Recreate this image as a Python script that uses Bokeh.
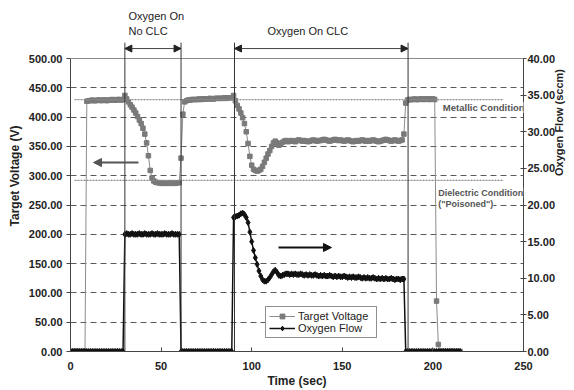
import math
from bokeh.plotting import figure
from bokeh.models import (Range1d, LinearAxis, NumeralTickFormatter, FixedTicker,
                          Label, Arrow, NormalHead, Span)
from bokeh.embed import file_html
from bokeh.resources import INLINE

# ---------------- data ----------------
time_s = list(range(0, 216))  # one sample per second

target_voltage = (
    [0, 0, 0, 0, 0, 0, 0, 0, 0]
    + [427, 428, 428, 429, 428, 428, 429, 429, 428, 429,
       429, 428, 429, 429, 430, 429, 429, 430, 430, 429, 430]
    + [437]
    + [431, 426, 421, 417, 412, 407, 401, 395, 389, 381,
       371, 356, 334, 309, 296, 291, 289]
    + [288, 288, 287, 287, 287, 287, 287, 288, 287, 287, 287, 288, 288]
    + [330, 405]
    + [426, 428, 429, 429, 430, 430, 430, 430, 431, 430,
       431, 431, 431, 431, 432, 431, 431, 432, 432, 432,
       432, 432, 433, 432, 433, 433, 433]
    + [437]
    + [428, 420, 414, 407, 399, 389, 375, 355, 333, 318,
       311, 309, 308, 309, 311, 316, 323, 330, 337, 343,
       350, 356, 359, 356, 352, 354, 357, 359, 360]
    + [358, 359, 360, 359, 358, 360, 361, 360, 359, 360,
       359, 358, 359, 360, 361, 360, 359, 360, 360, 361,
       362, 361, 360, 359, 360, 361, 362, 361, 360, 361,
       360, 359, 360, 361, 360, 359, 358, 359, 360, 359,
       360, 361, 360, 359, 360, 359, 360, 361, 360, 359,
       358, 359, 360, 361, 362, 361, 360, 359, 360, 361,
       360, 359, 360, 361]
    + [371, 424]
    + [429, 430, 430, 430, 431, 430, 430, 431, 431, 430,
       431, 431, 430, 431, 431]
    + [430, 86, 12]
    + [0, 0, 0, 0, 0, 0, 0, 0, 0, 0, 0, 0]
)

oxygen_flow = (
    [0, 0, 0, 0, 0, 0, 0, 0, 0, 0,
     0, 0, 0, 0, 0, 0, 0, 0, 0, 0,
     0, 0, 0, 0, 0, 0, 0, 0, 0, 0]
    + [16.0, 16.1, 16.0, 16.0, 16.1, 16.0, 16.0, 16.0, 16.1, 16.0,
       16.0, 16.1, 16.0, 16.0, 16.0, 16.1, 16.0, 16.0, 16.1, 16.0,
       16.0, 16.0, 16.1, 16.0, 16.0, 16.0, 16.1, 16.0, 16.0, 16.0, 16.0]
    + [0, 0, 0, 0, 0, 0, 0, 0, 0, 0,
       0, 0, 0, 0, 0, 0, 0, 0, 0, 0,
       0, 0, 0, 0, 0, 0, 0, 0, 0]
    + [18.3, 18.4, 18.5, 18.6, 18.8, 18.9, 18.7, 18.3, 17.6, 16.3,
       15.0, 13.8, 12.8, 11.9, 11.0, 10.3, 9.8, 9.6, 9.6, 9.8,
       10.1, 10.5, 10.9, 11.1, 10.8, 10.4, 10.3, 10.4, 10.5, 10.6]
    + [10.6, 10.5, 10.6, 10.5, 10.6, 10.5, 10.5, 10.6, 10.5, 10.4,
       10.5, 10.4, 10.5, 10.4, 10.4, 10.5, 10.4, 10.3, 10.4, 10.3,
       10.4, 10.3, 10.3, 10.4, 10.3, 10.2, 10.3, 10.2, 10.3, 10.2,
       10.2, 10.3, 10.2, 10.1, 10.2, 10.1, 10.2, 10.1, 10.1, 10.2,
       10.1, 10.0, 10.1, 10.0, 10.1, 10.0, 10.0, 10.1, 10.0, 9.9,
       10.0, 9.9, 10.0, 9.9, 10.0, 9.9, 9.9, 10.0, 9.9, 9.8,
       9.9, 9.9, 9.8, 9.9, 9.9]
    + [0, 0, 0, 0, 0, 0, 0, 0, 0, 0,
       0, 0, 0, 0, 0, 0, 0, 0, 0, 0,
       0, 0, 0, 0, 0, 0, 0, 0, 0, 0, 0]
)

assert len(target_voltage) == len(time_s), len(target_voltage)
assert len(oxygen_flow) == len(time_s), len(oxygen_flow)

x_ticks = [0, 50, 100, 150, 200, 250]
voltage_ticks = [0, 50, 100, 150, 200, 250, 300, 350, 400, 450, 500]
grid_ticks = [50, 100, 150, 200, 250, 300, 350, 400, 450]
flow_ticks = [0, 5, 10, 15, 20, 25, 30, 35, 40]

o2_switch_times = [30, 61, 90.5, 186.3]    # vertical marker lines
no_clc_span = [30, 61]
clc_span = [90.5, 186.3]
metallic_level = 430
dielectric_level = 292

V_MAX = 500          # top of the voltage axis
FLOW_MAX = 40        # top of the flow axis
TOP = 599            # room above the axes for the annotations (voltage units)

FONT = "Liberation Sans"
TXT = "#222222"

# ---------------- figure ----------------
p = figure(width=574, height=390,
           x_range=Range1d(0, 250), y_range=Range1d(0, TOP),
           output_backend="svg", toolbar_location=None,
           min_border_left=70, min_border_right=50,
           min_border_top=0, min_border_bottom=39,
           background_fill_color="white", border_fill_color="white")
p.outline_line_color = None

p.xgrid.visible = False
p.ygrid.ticker = FixedTicker(ticks=grid_ticks)
p.ygrid.grid_line_color = "#5a5a5a"
p.ygrid.grid_line_dash = "6 4"
p.ygrid.grid_line_width = 1
p.add_layout(Span(location=V_MAX, dimension="width", line_color="#8a8a8a", line_width=1))

xa = p.below[0]
xa.ticker = FixedTicker(ticks=x_ticks)
xa.axis_label = "Time (sec)"
xa.axis_line_color = "#444444"
xa.major_tick_in = 4
xa.major_tick_out = 0
xa.minor_tick_in = 0
xa.minor_tick_out = 0
xa.major_tick_line_color = "#444444"
xa.major_label_standoff = 10
xa.axis_label_standoff = 1
xa.major_label_text_font = FONT
xa.major_label_text_font_size = "11px"
xa.major_label_text_font_style = "bold"
xa.major_label_text_color = TXT
xa.axis_label_text_font = FONT
xa.axis_label_text_font_size = "12px"
xa.axis_label_text_font_style = "bold"
xa.axis_label_text_color = TXT

ya = p.left[0]
ya.ticker = FixedTicker(ticks=voltage_ticks)
ya.bounds = (0, V_MAX)
ya.formatter = NumeralTickFormatter(format="0.00")
ya.axis_label = "Target Voltage (V)"
ya.axis_line_color = "#444444"
ya.major_tick_in = 0
ya.major_tick_out = 4
ya.minor_tick_in = 0
ya.minor_tick_out = 0
ya.major_tick_line_color = "#444444"
ya.major_label_standoff = 4
ya.axis_label_standoff = 4
ya.major_label_text_font = FONT
ya.major_label_text_font_size = "11px"
ya.major_label_text_font_style = "bold"
ya.major_label_text_color = TXT
ya.axis_label_text_font = FONT
ya.axis_label_text_font_size = "12px"
ya.axis_label_text_font_style = "bold"
ya.axis_label_text_color = TXT

p.extra_y_ranges = {"flow": Range1d(0, TOP * FLOW_MAX / V_MAX)}
ra = LinearAxis(y_range_name="flow", ticker=FixedTicker(ticks=flow_ticks),
                formatter=NumeralTickFormatter(format="0.00"),
                axis_label="Oxygen Flow (sccm)", bounds=(0, FLOW_MAX))
ra.axis_line_color = "#444444"
ra.major_tick_in = 3
ra.major_tick_out = 3
ra.minor_tick_in = 0
ra.minor_tick_out = 0
ra.major_tick_line_color = "#444444"
ra.major_label_standoff = 1
ra.axis_label_standoff = 1
ra.major_label_text_font = FONT
ra.major_label_text_font_size = "11px"
ra.major_label_text_font_style = "bold"
ra.major_label_text_color = TXT
ra.axis_label_text_font = FONT
ra.axis_label_text_font_size = "11px"
ra.axis_label_text_font_style = "bold"
ra.axis_label_text_color = TXT
if "axis_label_orientation" in ra.properties():
    ra.axis_label_orientation = math.pi / 2
p.add_layout(ra, "right")

# ---------------- reference level lines (dotted) ----------------
for lvl in (metallic_level, dielectric_level):
    p.add_layout(Arrow(end=None, x_start=2.2, x_end=239, y_start=lvl, y_end=lvl,
                       line_color="#8a8a8a", line_width=1.3, line_dash="2 1"))

# ---------------- series ----------------
p.line(time_s, target_voltage, line_color="#8c8c8c", line_width=1,
       legend_label="Target Voltage")
p.scatter(time_s, target_voltage, marker="square", size=4.5,
          fill_color="#7a7a7a", line_color="#7a7a7a",
          legend_label="Target Voltage")
p.line(time_s, oxygen_flow, line_color="#111111", line_width=1.5,
       y_range_name="flow", legend_label="Oxygen Flow")
p.scatter(time_s, oxygen_flow, marker="diamond", size=6,
          fill_color="#111111", line_color="#111111",
          y_range_name="flow", legend_label="Oxygen Flow")

# ---------------- annotations ----------------
for t in o2_switch_times:
    p.add_layout(Arrow(end=None, x_start=t, x_end=t, y_start=527, y_end=-10,
                       line_color="#333333", line_width=1))

for a, b in (no_clc_span, clc_span):
    p.add_layout(Arrow(start=NormalHead(size=7, fill_color="#222222", line_color="#222222"),
                       end=NormalHead(size=7, fill_color="#222222", line_color="#222222"),
                       x_start=a, x_end=b, y_start=517, y_end=517,
                       line_color="#444444", line_width=1))

# direction arrows
p.add_layout(Arrow(end=NormalHead(size=8, fill_color="#555555", line_color="#555555"),
                   x_start=37.5, x_end=12.7, y_start=322.5, y_end=322.5,
                   line_color="#555555", line_width=2))
p.add_layout(Arrow(end=NormalHead(size=8, fill_color="#111111", line_color="#111111"),
                   x_start=114.8, x_end=144, y_start=177.5, y_end=177.5,
                   line_color="#111111", line_width=2))

def lab(x, y, text, size="11px", style="normal", color=TXT, bg=None):
    kw = dict(x=x, y=y, text=text, text_font=FONT, text_font_size=size,
              text_font_style=style, text_color=color, text_baseline="middle",
              text_align="left")
    if bg:
        kw.update(background_fill_color=bg, background_fill_alpha=1.0)
    p.add_layout(Label(**kw))

lab(32.0, 571.7, "Oxygen On")
lab(32.0, 547.8, "No CLC")
lab(108.7, 547.8, "Oxygen On CLC")
lab(205.5, 416.4, "Metallic Condition", size="9.5px", style="bold", color="#555555", bg="white")
lab(203.0, 271.3, "Dielectric Condition", size="9px", style="bold", color="#555555", bg="white")
lab(203.0, 250.9, "(\"Poisoned\")", size="9px", style="bold", color="#555555", bg="white")

# ---------------- legend ----------------
lg = p.legend[0]
lg.location = (195, 13)
lg.border_line_color = "#222222"
lg.border_line_width = 1
lg.background_fill_color = "white"
lg.background_fill_alpha = 1
lg.padding = 3
lg.spacing = 0
lg.margin = 0
lg.glyph_width = 26
lg.glyph_height = 12
lg.label_height = 12
lg.label_standoff = 3
lg.label_width = 75
lg.label_text_font = FONT
lg.label_text_font_size = "11px"
lg.label_text_color = TXT

open("out.html", "w").write(file_html(p, INLINE))
